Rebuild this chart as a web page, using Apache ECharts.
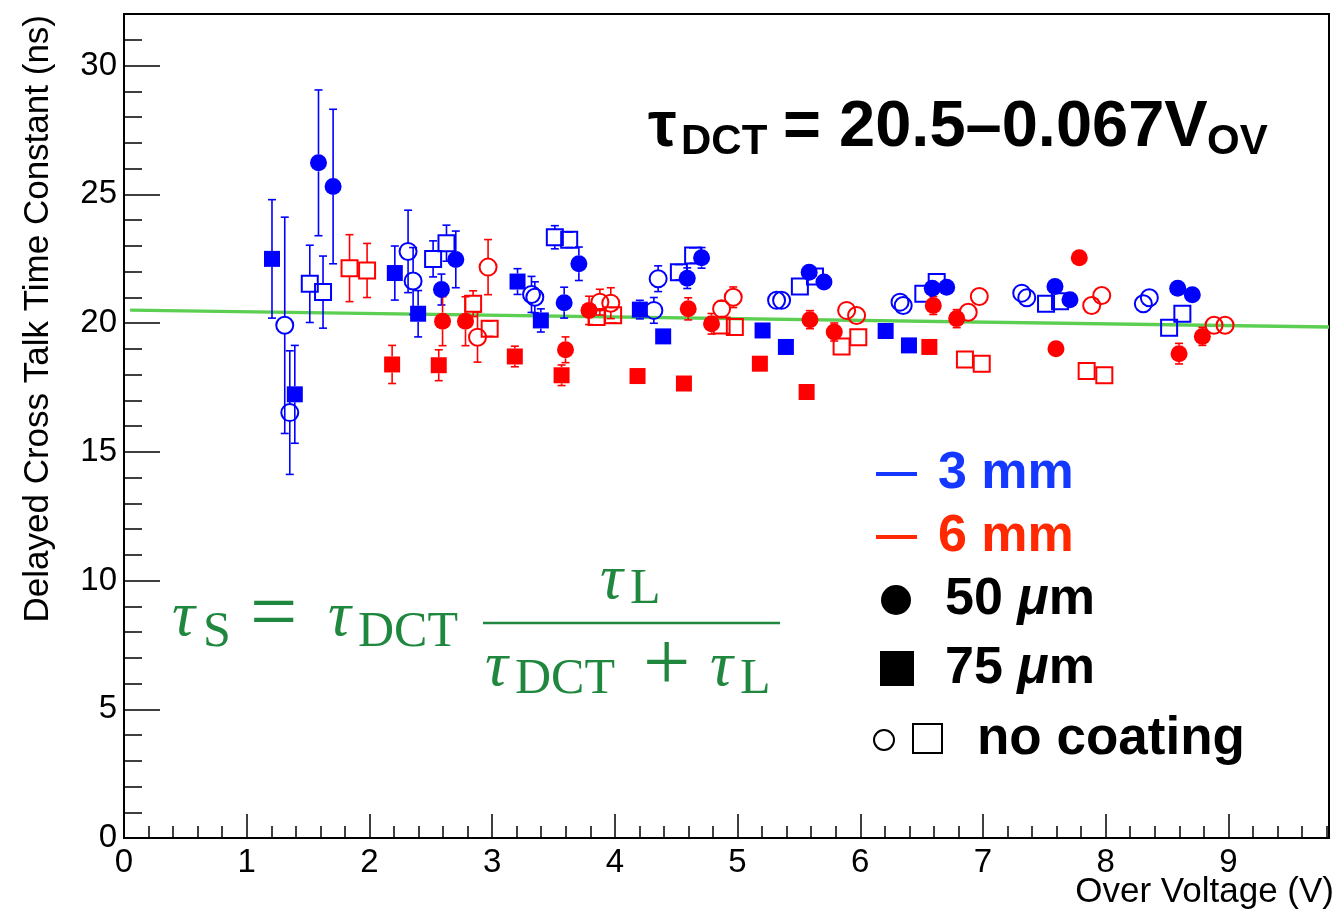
<!DOCTYPE html>
<html><head><meta charset="utf-8">
<script src="https://cdn.jsdelivr.net/npm/echarts@6/dist/echarts.min.js"></script>
<style>html,body{margin:0;padding:0;background:#fff}#c{width:1340px;height:910px}</style>
</head><body><div id="c"></div>
<script>
// ---- data: [overVoltage, tau (ns), error] ----
const blue50 = [[1.585,26.22,2.83],[1.704,25.30,3.0],[2.587,21.30,0.6],[2.704,22.47,1.1],[3.587,20.79,0.6],[3.707,22.30,0.65],[4.590,21.74,0.4],[4.707,22.53,0.4],[5.584,21.97,0.2],[5.704,21.59,0.2],[6.587,21.35,0.2],[6.704,21.39,0.2],[7.587,21.42,0.2],[7.709,20.90,0.2],[8.587,21.35,0.2],[8.706,21.10,0.2]];
const blue75 = [[1.206,22.49,2.3],[1.392,17.23,1.9],[2.207,21.94,1.05],[2.397,20.36,0.9],[3.207,21.61,0.5],[3.397,20.10,0.45],[4.204,20.52,0.36],[4.394,19.48,0.2],[5.204,19.71,0.2],[5.394,19.07,0.2],[6.207,19.69,0.2],[6.397,19.13,0.2]];
const blue50nc = [[1.310,19.91,4.2],[1.351,16.52,2.4],[2.315,22.78,1.6],[2.356,21.63,1.3],[3.321,21.11,0.7],[3.348,21.00,0.6],[4.318,20.49,0.5],[4.353,21.72,0.5],[5.318,20.88,0.2],[5.359,20.88,0.2],[6.324,20.81,0.2],[6.350,20.68,0.2],[7.316,21.16,0.2],[7.357,20.98,0.2],[8.307,20.75,0.2],[8.356,20.98,0.2]];
const blue75nc = [[1.514,21.52,1.5],[1.622,21.20,1.4],[2.519,22.49,0.7],[2.628,23.10,0.7],[3.511,23.33,0.45],[3.628,23.23,0.3],[4.522,21.97,0.3],[4.638,22.62,0.3],[5.508,21.42,0.2],[5.631,21.81,0.2],[6.514,21.14,0.2],[6.623,21.59,0.2],[7.514,20.75,0.2],[7.628,20.84,0.2],[8.517,19.82,0.2],[8.625,20.36,0.2]];
const red50 = [[2.596,20.07,0.95],[2.783,20.07,0.95],[3.598,18.96,0.5],[3.790,20.49,0.55],[4.598,20.55,0.43],[4.788,19.97,0.4],[5.590,20.13,0.35],[5.788,19.65,0.35],[6.595,20.68,0.35],[6.786,20.17,0.35],[7.595,19.00,0.2],[7.785,22.53,0.2],[8.598,18.81,0.4],[8.788,19.48,0.35]];
const red75 = [[2.185,18.39,0.74],[2.565,18.36,0.6],[3.185,18.70,0.4],[3.566,17.97,0.4],[4.185,17.94,0.2],[4.563,17.65,0.2],[5.182,18.42,0.2],[5.563,17.32,0.2],[6.563,19.07,0.2]];
const red50nc = [[2.881,19.45,0.97],[2.967,22.17,1.07],[3.878,20.81,0.5],[3.967,20.77,0.6],[4.870,20.55,0.3],[4.965,21.00,0.4],[5.889,20.49,0.2],[5.970,20.29,0.2],[6.880,20.42,0.2],[6.970,21.03,0.2],[7.886,20.68,0.2],[7.968,21.07,0.2],[8.883,19.91,0.2],[8.973,19.91,0.2]];
const red75nc = [[1.838,22.13,1.3],[1.981,22.04,1.05],[2.845,20.75,0.5],[2.980,19.78,0.3],[3.851,20.23,0.3],[3.986,20.30,0.3],[4.870,19.90,0.2],[4.978,19.84,0.2],[5.848,19.09,0.2],[5.984,19.45,0.2],[6.853,18.58,0.2],[6.990,18.42,0.2],[7.845,18.14,0.2],[7.989,17.97,0.2]];
const fitLine = [[0.05,20.50],[9.82,19.84]];
const xRange = [0, 9.82];
const yRange = [0, 32];

const BLUE = '#0000ff', RED = '#ff0000', GREEN_FIT = '#5ccf52', GREEN_TXT = '#20883e';
const SANS = '"Liberation Sans", Arial, Helvetica, sans-serif';
const SERIF = '"Liberation Serif", "Times New Roman", serif';

function errRender(color, r) {
  return function (params, api) {
    const x = api.value(0), y = api.value(1), e = api.value(2);
    const c = api.coord([x, y]);
    const t = api.coord([x, y + e]);
    const b = api.coord([x, y - e]);
    const st = { stroke: color, lineWidth: 1.6 };
    const ch = [];
    if (c[1] - t[1] > r - 2) {
      if (c[1] - t[1] > r) ch.push({ type: 'line', shape: { x1: c[0], y1: c[1] - r, x2: c[0], y2: t[1] }, style: st });
      ch.push({ type: 'line', shape: { x1: c[0] - 4, y1: t[1], x2: c[0] + 4, y2: t[1] }, style: st });
    }
    if (b[1] - c[1] > r - 2) {
      if (b[1] - c[1] > r) ch.push({ type: 'line', shape: { x1: c[0], y1: c[1] + r, x2: c[0], y2: b[1] }, style: st });
      ch.push({ type: 'line', shape: { x1: c[0] - 4, y1: b[1], x2: c[0] + 4, y2: b[1] }, style: st });
    }
    return { type: 'group', children: ch };
  };
}

function group(name, data, color, symbol, open) {
  const size = symbol === 'circle' ? 17 : 16;
  return [
    { type: 'custom', name: name + ' err', data: data, renderItem: errRender(color, size / 2), clip: true, z: 3, silent: true, encode: { x: 0, y: 1 } },
    { type: 'scatter', name: name, data: data.map(d => [d[0], d[1]]), symbol: symbol, symbolSize: size, z: 4, silent: true,
      itemStyle: open ? { color: 'rgba(255,255,255,0)', borderColor: color, borderWidth: 2, opacity: 1 } : { color: color, borderWidth: 0, opacity: 1 } }
  ];
}

const chart = echarts.init(document.getElementById('c'), null, { renderer: 'canvas' });
const intLabel = v => (Math.abs(v - Math.round(v)) < 1e-6 && v <= 9.001) ? String(Math.round(v)) : '';
const yLabel = v => (Math.abs(v % 5) < 1e-6 && v <= 30) ? String(v) : '';

const option = {
  animation: false,
  backgroundColor: '#fff',
  grid: { left: 124, right: 11, top: 14, bottom: 72, show: true, borderColor: '#000', borderWidth: 2, backgroundColor: 'rgba(0,0,0,0)' },
  xAxis: [
    { type: 'value', min: xRange[0], max: xRange[1], interval: 1, position: 'bottom',
      axisLine: { show: true, lineStyle: { color: '#000', width: 2 } },
      axisTick: { inside: true, length: 24, lineStyle: { color: '#000', width: 1.5 } },
      axisLabel: { fontSize: 33, color: '#000', fontFamily: SANS, margin: 8, formatter: intLabel, showMaxLabel: false },
      splitLine: { show: false } },
    { type: 'value', min: xRange[0], max: xRange[1], interval: 0.2, position: 'bottom',
      axisLine: { show: false }, axisTick: { inside: true, length: 12, lineStyle: { color: '#000', width: 1.5 } },
      axisLabel: { show: false }, splitLine: { show: false } }
  ],
  yAxis: [
    { type: 'value', min: yRange[0], max: yRange[1], interval: 5, position: 'left',
      axisLine: { show: true, lineStyle: { color: '#000', width: 2 } },
      axisTick: { inside: true, length: 36, lineStyle: { color: '#000', width: 1.5 } },
      axisLabel: { fontSize: 33, color: '#000', fontFamily: SANS, margin: 7, formatter: yLabel, showMaxLabel: false },
      splitLine: { show: false } },
    { type: 'value', min: yRange[0], max: yRange[1], interval: 1, position: 'left',
      axisLine: { show: false }, axisTick: { inside: true, length: 18, lineStyle: { color: '#000', width: 1.5 } },
      axisLabel: { show: false }, splitLine: { show: false } }
  ],
  series: [
    { type: 'line', name: 'fit', data: fitLine, symbol: 'none', z: 2, silent: true, lineStyle: { color: GREEN_FIT, width: 3.5 } },
    ...group('3mm 75um', blue75, BLUE, 'rect', false),
    ...group('3mm 50um', blue50, BLUE, 'circle', false),
    ...group('3mm 50um nc', blue50nc, BLUE, 'circle', true),
    ...group('3mm 75um nc', blue75nc, BLUE, 'rect', true),
    ...group('6mm 75um', red75, RED, 'rect', false),
    ...group('6mm 50um', red50, RED, 'circle', false),
    ...group('6mm 50um nc', red50nc, RED, 'circle', true),
    ...group('6mm 75um nc', red75nc, RED, 'rect', true)
  ],
  graphic: [
    // axis titles
    { type: 'text', x: 1334, y: 892, style: { text: 'Over Voltage (V)', fontSize: 35, fontFamily: SANS, fill: '#000', align: 'right', verticalAlign: 'middle' } },
    { type: 'text', x: 38, y: 15, rotation: Math.PI / 2, style: { text: 'Delayed Cross Talk Time Constant (ns)', fontSize: 35, fontFamily: SANS, fill: '#000', align: 'right', verticalAlign: 'middle' } },
    // fit formula
    { type: 'text', x: 648, y: 128, style: { text: 'τ', fontSize: 64, fontWeight: 'bold', fontFamily: SANS, fill: '#000', align: 'left', verticalAlign: 'middle' } },
    { type: 'text', x: 681, y: 142, style: { text: 'DCT', fontSize: 42, fontWeight: 'bold', fontFamily: SANS, fill: '#000', align: 'left', verticalAlign: 'middle' } },
    { type: 'text', x: 783, y: 128, style: { text: '= 20.5–0.067V', fontSize: 65, fontWeight: 'bold', fontFamily: SANS, fill: '#000', align: 'left', verticalAlign: 'middle' } },
    { type: 'text', x: 1207, y: 142, style: { text: 'OV', fontSize: 42, fontWeight: 'bold', fontFamily: SANS, fill: '#000', align: 'left', verticalAlign: 'middle' } },
    // legend
    { type: 'line', shape: { x1: 876, y1: 474, x2: 917, y2: 474 }, style: { stroke: '#1438ff', lineWidth: 4 } },
    { type: 'text', x: 938, y: 474, style: { text: '3 mm', fontSize: 52, fontWeight: 'bold', fontFamily: SANS, fill: '#1438ff', verticalAlign: 'middle' } },
    { type: 'line', shape: { x1: 876, y1: 537, x2: 917, y2: 537 }, style: { stroke: '#ff2800', lineWidth: 4 } },
    { type: 'text', x: 938, y: 537, style: { text: '6 mm', fontSize: 52, fontWeight: 'bold', fontFamily: SANS, fill: '#ff2800', verticalAlign: 'middle' } },
    { type: 'circle', shape: { cx: 896, cy: 600, r: 15 }, style: { fill: '#000' } },
    { type: 'text', x: 945, y: 600, style: { rich: { n: { fontSize: 52, fontWeight: 'bold', fontFamily: SANS, fill: '#000' }, i: { fontSize: 52, fontWeight: 'bold', fontStyle: 'italic', fontFamily: SANS, fill: '#000' } }, text: '{n|50 }{i|μ}{n|m}', verticalAlign: 'middle' } },
    { type: 'rect', shape: { x: 880, y: 651, width: 34, height: 35 }, style: { fill: '#000' } },
    { type: 'text', x: 945, y: 669, style: { rich: { n: { fontSize: 52, fontWeight: 'bold', fontFamily: SANS, fill: '#000' }, i: { fontSize: 52, fontWeight: 'bold', fontStyle: 'italic', fontFamily: SANS, fill: '#000' } }, text: '{n|75 }{i|μ}{n|m}', verticalAlign: 'middle' } },
    { type: 'circle', shape: { cx: 884, cy: 740, r: 10 }, style: { fill: 'none', stroke: '#000', lineWidth: 2 } },
    { type: 'rect', shape: { x: 913, y: 724, width: 29, height: 29 }, style: { fill: 'none', stroke: '#000', lineWidth: 2 } },
    { type: 'text', x: 977, y: 739, style: { text: 'no coating', fontSize: 53, fontWeight: 'bold', fontFamily: SANS, fill: '#000', verticalAlign: 'middle' } },
    // green LaTeX-like formula
    { type: 'text', x: 172, y: 618, style: { text: 'τ', fontSize: 64, fontStyle: 'italic', fontFamily: SERIF, fill: GREEN_TXT, verticalAlign: 'middle' } },
    { type: 'text', x: 203, y: 633, style: { text: 'S', fontSize: 50, fontFamily: SERIF, fill: GREEN_TXT, verticalAlign: 'middle' } },
    { type: 'text', x: 250, y: 618, style: { text: '=', fontSize: 84, fontFamily: SERIF, fill: GREEN_TXT, verticalAlign: 'middle' } },
    { type: 'text', x: 328, y: 618, style: { text: 'τ', fontSize: 64, fontStyle: 'italic', fontFamily: SERIF, fill: GREEN_TXT, verticalAlign: 'middle' } },
    { type: 'text', x: 358, y: 633, style: { text: 'DCT', fontSize: 50, fontFamily: SERIF, fill: GREEN_TXT, verticalAlign: 'middle' } },
    { type: 'line', shape: { x1: 483, y1: 623, x2: 780, y2: 623 }, style: { stroke: GREEN_TXT, lineWidth: 2.5 } },
    { type: 'text', x: 600, y: 581, style: { text: 'τ', fontSize: 64, fontStyle: 'italic', fontFamily: SERIF, fill: GREEN_TXT, verticalAlign: 'middle' } },
    { type: 'text', x: 630, y: 590, style: { text: 'L', fontSize: 50, fontFamily: SERIF, fill: GREEN_TXT, verticalAlign: 'middle' } },
    { type: 'text', x: 485, y: 668, style: { text: 'τ', fontSize: 64, fontStyle: 'italic', fontFamily: SERIF, fill: GREEN_TXT, verticalAlign: 'middle' } },
    { type: 'text', x: 515, y: 680, style: { text: 'DCT', fontSize: 50, fontFamily: SERIF, fill: GREEN_TXT, verticalAlign: 'middle' } },
    { type: 'text', x: 643, y: 668, style: { text: '+', fontSize: 84, fontFamily: SERIF, fill: GREEN_TXT, verticalAlign: 'middle' } },
    { type: 'text', x: 710, y: 668, style: { text: 'τ', fontSize: 64, fontStyle: 'italic', fontFamily: SERIF, fill: GREEN_TXT, verticalAlign: 'middle' } },
    { type: 'text', x: 740, y: 680, style: { text: 'L', fontSize: 50, fontFamily: SERIF, fill: GREEN_TXT, verticalAlign: 'middle' } }
  ]
};
chart.setOption(option);
</script>
</body></html>
